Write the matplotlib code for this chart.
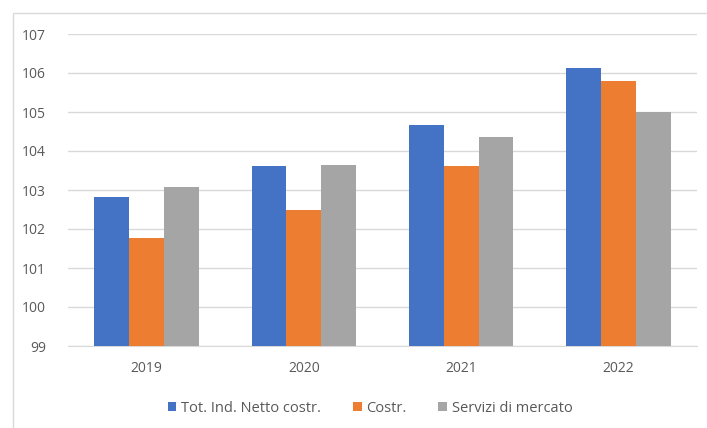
import matplotlib
matplotlib.use("Agg")
import matplotlib.pyplot as plt
import numpy as np
from matplotlib.patches import Rectangle

categories = ["2019", "2020", "2021", "2022"]
series_names = ["Tot. Ind. Netto costr.", "Costr.", "Servizi di mercato"]
tot_ind = [102.83, 103.62, 104.67, 106.14]
costr = [101.77, 102.49, 103.62, 105.80]
servizi = [103.08, 103.65, 104.36, 105.00]
colors = ["#4472C4", "#ED7D31", "#A5A5A5"]

plt.rcParams['font.family'] = ['Open Sans', 'DejaVu Sans']

fig = plt.figure(figsize=(7.07, 4.28), dpi=100)
fig.patches.append(Rectangle((13/707, -0.01), 1.0, 1 - 13/428 + 0.01,
                             transform=fig.transFigure, fill=False,
                             edgecolor="#D9D9D9", linewidth=1.0))
ax = fig.add_axes([68/707, 1 - 346/428, (697 - 68)/707, (346 - 34)/428])

x = np.arange(len(categories))
w = 0.222
for i, (vals, name) in enumerate(zip([tot_ind, costr, servizi], series_names)):
    ax.bar(x + (i - 1) * w, np.array(vals) - 99, bottom=99, width=w,
           color=colors[i], label=name, zorder=3)

ax.set_xlim(-0.5, 3.5)
ax.set_ylim(99, 107)
ax.set_yticks(range(99, 108))
ax.set_xticks(x)
ax.set_xticklabels(categories)
ax.grid(axis='y', color="#D9D9D9", linewidth=1, zorder=0)
for s in ["top", "right", "left"]:
    ax.spines[s].set_visible(False)
ax.spines["bottom"].set_color("#D9D9D9")
ax.tick_params(axis='both', length=0, labelsize=10, colors="#595959")
ax.tick_params(axis='y', pad=16)
ax.tick_params(axis='x', pad=11)

leg = fig.legend(loc="center", bbox_to_anchor=(370/707, 1 - 408/428), ncol=3,
                 frameon=False, fontsize=10.5, handlelength=0.6, handleheight=0.6,
                 handletextpad=0.3, columnspacing=2.2)
for t in leg.get_texts():
    t.set_color("#595959")

fig.savefig("out.png", dpi=100)
